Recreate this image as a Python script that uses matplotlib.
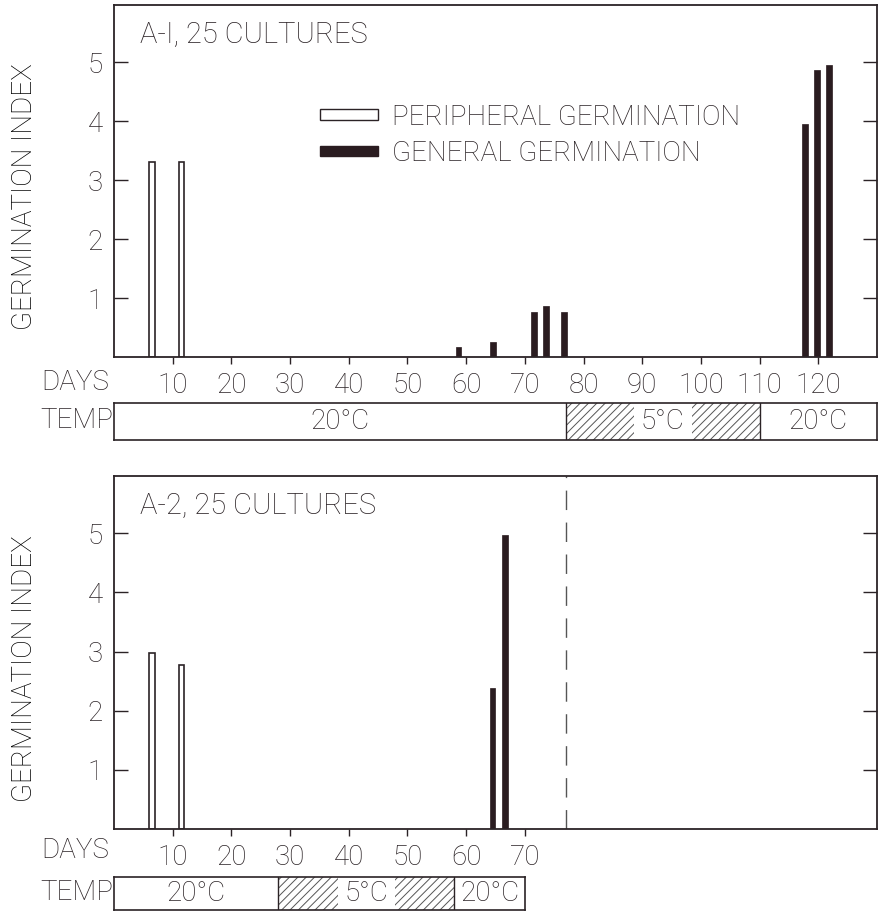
import matplotlib
matplotlib.use("Agg")
import matplotlib.pyplot as plt
from matplotlib.patches import Patch

# values (days, germination index)
periphDaysA1 = [6.5, 11.5]
periphA1 = [3.3, 3.3]
generalDaysA1 = [58.7, 64.6, 71.5, 73.6, 76.6, 117.7, 119.8, 121.8]
generalA1 = [0.17, 0.26, 0.77, 0.86, 0.76, 3.95, 4.86, 4.95]

periphDaysA2 = [6.5, 11.5]
periphA2 = [2.97, 2.78]
generalDaysA2 = [64.5, 66.6]
generalA2 = [2.39, 4.97]
endDayA2 = 77

# temperature periods: start, end, label
tempA1 = [(0, 77, "20°C"), (77, 110, "5°C"), (110, 130, "20°C")]
tempA2 = [(0, 28, "20°C"), (28, 58, "5°C"), (58, 70, "20°C")]

ticksA1 = [10, 20, 30, 40, 50, 60, 70, 80, 90, 100, 110, 120]
ticksA2 = [10, 20, 30, 40, 50, 60, 70]

INK = "#2b2326"
BAR = "#2a1c20"
FS = 20

plt.rcParams['font.family'] = ['Roboto', 'DejaVu Sans']
plt.rcParams['font.weight'] = 'light'
plt.rcParams['axes.labelweight'] = 'light'
plt.rcParams['hatch.linewidth'] = 0.7
plt.rcParams['hatch.color'] = "#555555"
plt.rcParams['text.color'] = INK

W, H = 879, 914
fig = plt.figure(figsize=(W / 100, H / 100), dpi=100)


def px(x0, y0, x1, y1):
    '''pixel box (top-left origin) -> figure rect'''
    return [x0 / W, 1 - y1 / H, (x1 - x0) / W, (y1 - y0) / H]


def drawPanel(ax, pDays, pVals, gDays, gVals, ticks, title):
    ax.bar(pDays, pVals, width=1.0, facecolor="white", edgecolor=INK, linewidth=1.2)
    ax.bar(gDays, gVals, width=1.0, facecolor=BAR, edgecolor=BAR, linewidth=0.5)
    ax.set_xlim(0, 130)
    ax.set_ylim(0, 5.97)
    ax.set_yticks([1, 2, 3, 4, 5])
    ax.set_xticks(ticks)
    ax.tick_params(axis="y", direction="in", length=10, width=1, colors=INK,
                   labelsize=FS, pad=8, right=True)
    ax.tick_params(axis="x", direction="out", length=5, width=1, colors=INK,
                   labelsize=FS, pad=6)
    for s in ax.spines.values():
        s.set_color(INK)
        s.set_linewidth(1.3)
    ax.set_ylabel("GERMINATION INDEX", fontsize=FS)
    ax.yaxis.set_label_coords(-0.100, 0.455)
    ax.text(0.034, 0.955, title, transform=ax.transAxes, fontsize=21, va="top")


def drawTemp(ax, periods, xmax):
    ax.set_xlim(0, xmax)
    ax.set_ylim(0, 1)
    for start, end, label in periods:
        if label == "5°C":
            ax.axvspan(start, end, facecolor="white", hatch="////", edgecolor="#555555",
                       linewidth=0, zorder=1)
            # white box behind the label, kept under the frame
            ax.text((start + end) / 2, 0.5, label, ha="center", va="center", fontsize=FS,
                    zorder=2, bbox=dict(facecolor="white", edgecolor="none", pad=5))
        else:
            ax.text((start + end) / 2, 0.5, label, ha="center", va="center", fontsize=FS)
        if start > 0:
            ax.axvline(start, color=INK, linewidth=1, zorder=2.2)
    ax.set_xticks([])
    ax.set_yticks([])
    for s in ax.spines.values():
        s.set_color(INK)
        s.set_linewidth(1.2)
        s.set_zorder(3)


axTop = fig.add_axes(px(114, 5, 877, 357))
drawPanel(axTop, periphDaysA1, periphA1, generalDaysA1, generalA1, ticksA1, "A-I, 25 CULTURES")
handles = [Patch(facecolor="white", edgecolor=INK, linewidth=1.0),
           Patch(facecolor=BAR, edgecolor=BAR)]
axTop.legend(handles, ["PERIPHERAL GERMINATION", "GENERAL GERMINATION"],
             loc="upper left", bbox_to_anchor=(0.27, 0.72), frameon=False,
             fontsize=FS, handlelength=2.1, handleheight=0.2, handletextpad=0.5,
             labelspacing=0.35, borderpad=0, borderaxespad=0)

axBot = fig.add_axes(px(114, 476, 877, 829))
drawPanel(axBot, periphDaysA2, periphA2, generalDaysA2, generalA2, ticksA2, "A-2, 25 CULTURES")
axBot.axvline(endDayA2, color="#555555", linewidth=1, linestyle=(0, (14, 9)))

tempTop = fig.add_axes(px(114, 403, 877, 440))
drawTemp(tempTop, tempA1, 130)

x70 = 114 + (877 - 114) * 70 / 130
tempBot = fig.add_axes(px(114, 877, x70, 910))
drawTemp(tempBot, tempA2, 70)

fig.text(41 / W, 1 - 383 / H, "DAYS", fontsize=FS, va="center")
fig.text(40 / W, 1 - 421 / H, "TEMP", fontsize=FS, va="center")
fig.text(41 / W, 1 - 851 / H, "DAYS", fontsize=FS, va="center")
fig.text(40 / W, 1 - 893 / H, "TEMP", fontsize=FS, va="center")

fig.savefig("out.png", dpi=100, facecolor="white")
